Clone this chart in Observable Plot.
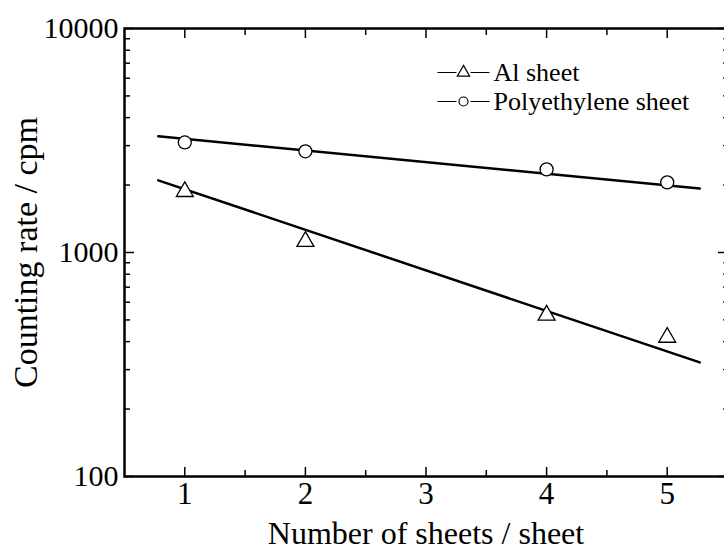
<!DOCTYPE html>
<html><head><meta charset="utf-8">
<script src="https://cdn.jsdelivr.net/npm/d3@7"></script>
<script src="https://cdn.jsdelivr.net/npm/@observablehq/plot@0.6"></script>
<style>html,body{margin:0;padding:0;background:#fff;overflow:hidden} svg{max-width:none !important;display:block}</style>
</head><body><div id="chart"></div>
<script>
// Data
const sheets = [1, 2, 4, 5];
const alRate = [1870, 1120, 525, 418];
const peRate = [3100, 2830, 2350, 2055];
const fitX = [0.78, 5.27];
const alFit = [2100, 323];
const peFit = [3300, 1930];
const xMajor = [1, 2, 3, 4, 5];
const xMinor = [1.5, 2.5, 3.5, 4.5];
const yMajor = [100, 1000, 10000];
const yMinor = [200, 300, 400, 500, 600, 700, 800, 900, 2000, 3000, 4000, 5000, 6000, 7000, 8000, 9000];
const legendLabels = ["Al sheet", "Polyethylene sheet"];
const xTitle = "Number of sheets / sheet";
const yTitle = "Counting rate / cpm";

const alPts = sheets.map((s, i) => ({x: s, y: alRate[i]}));
const pePts = sheets.map((s, i) => ({x: s, y: peRate[i]}));
const alLine = fitX.map((x, i) => ({x, y: alFit[i]}));
const peLine = fitX.map((x, i) => ({x, y: peFit[i]}));

const segSymbol = {draw(ctx) { ctx.moveTo(-26, 0); ctx.lineTo(-7, 0); ctx.moveTo(7, 0); ctx.lineTo(26, 0); }};
const blank = () => "";
const tk = (data, anchor, size, sw) => (anchor === "bottom" || anchor === "top")
  ? Plot.axisX(data, {anchor, tickSize: size, tickFormat: blank, label: null, strokeWidth: sw})
  : Plot.axisY(data, {anchor, tickSize: size, tickFormat: blank, label: null, strokeWidth: sw});

const chart = Plot.plot({
  width: 728,
  height: 550,
  marginLeft: 124,
  marginRight: 1,
  marginTop: 28,
  marginBottom: 74,
  style: {fontFamily: "'Liberation Serif', 'Times New Roman', serif", background: "white", color: "black", maxWidth: "none"},
  x: {type: "linear", domain: [0.5, 5.5], label: null},
  y: {type: "log", domain: [100, 10000], label: null},
  marks: [
    // ticks (inward)
    tk(xMajor, "bottom", -9, 1.5),
    tk(xMinor, "bottom", -6, 1.5),
    tk(xMajor, "top", -9, 1.5),
    tk(xMinor, "top", -6, 1.5),
    tk(yMajor, "left", -10, 1.5),
    tk(yMinor, "left", -6, 1.5),
    tk(yMajor, "right", -10, 1.5),
    tk(yMinor, "right", -5, 1.2),
    // tick labels
    Plot.text(xMajor, {x: d => d, frameAnchor: "bottom", dy: 18, lineAnchor: "middle", textAnchor: "middle", text: d => String(d), fontSize: 31, fill: "black"}),
    Plot.text(yMajor, {y: d => d, frameAnchor: "left", dx: -6, lineAnchor: "middle", textAnchor: "end", text: d => String(d), fontSize: 30, fill: "black"}),
    Plot.frame({strokeWidth: 2.5}),
    // fitted lines
    Plot.line(peLine, {x: "x", y: "y", stroke: "black", strokeWidth: 2.5}),
    Plot.line(alLine, {x: "x", y: "y", stroke: "black", strokeWidth: 2.5}),
    // data points
    Plot.dot(pePts, {x: "x", y: "y", symbol: "circle", r: 6.5, fill: "white", stroke: "black", strokeWidth: 1.3}),
    Plot.dot(alPts, {x: "x", y: "y", symbol: "triangle", r: 6.3, fill: "white", stroke: "black", strokeWidth: 1.3}),
    // legend
    Plot.dot([legendLabels[0]], {frameAnchor: "top-left", dx: 339, dy: 44, symbol: segSymbol, stroke: "black", strokeWidth: 1.2, fill: "none"}),
    Plot.dot([legendLabels[0]], {frameAnchor: "top-left", dx: 339, dy: 44, symbol: "triangle", r: 4.6, stroke: "black", strokeWidth: 1.2, fill: "white"}),
    Plot.text([legendLabels[0]], {frameAnchor: "top-left", dx: 369, dy: 44, lineAnchor: "middle", text: d => d, textAnchor: "start", fontSize: 26, fill: "black"}),
    Plot.dot([legendLabels[1]], {frameAnchor: "top-left", dx: 339, dy: 73, symbol: segSymbol, stroke: "black", strokeWidth: 1.2, fill: "none"}),
    Plot.dot([legendLabels[1]], {frameAnchor: "top-left", dx: 339, dy: 73, symbol: "circle", r: 4.5, stroke: "black", strokeWidth: 1.2, fill: "white"}),
    Plot.text([legendLabels[1]], {frameAnchor: "top-left", dx: 369, dy: 73, lineAnchor: "middle", text: d => d, textAnchor: "start", fontSize: 26, fill: "black"}),
    // axis titles
    Plot.text([xTitle], {frameAnchor: "bottom", dy: 57, lineAnchor: "middle", textAnchor: "middle", text: d => d, fontSize: 32, fill: "black"}),
    Plot.text([yTitle], {frameAnchor: "left", dx: -98, rotate: -90, lineAnchor: "middle", textAnchor: "middle", text: d => d, fontSize: 34, fill: "black"})
  ]
});
document.getElementById("chart").appendChild(chart);
</script>
</body></html>
